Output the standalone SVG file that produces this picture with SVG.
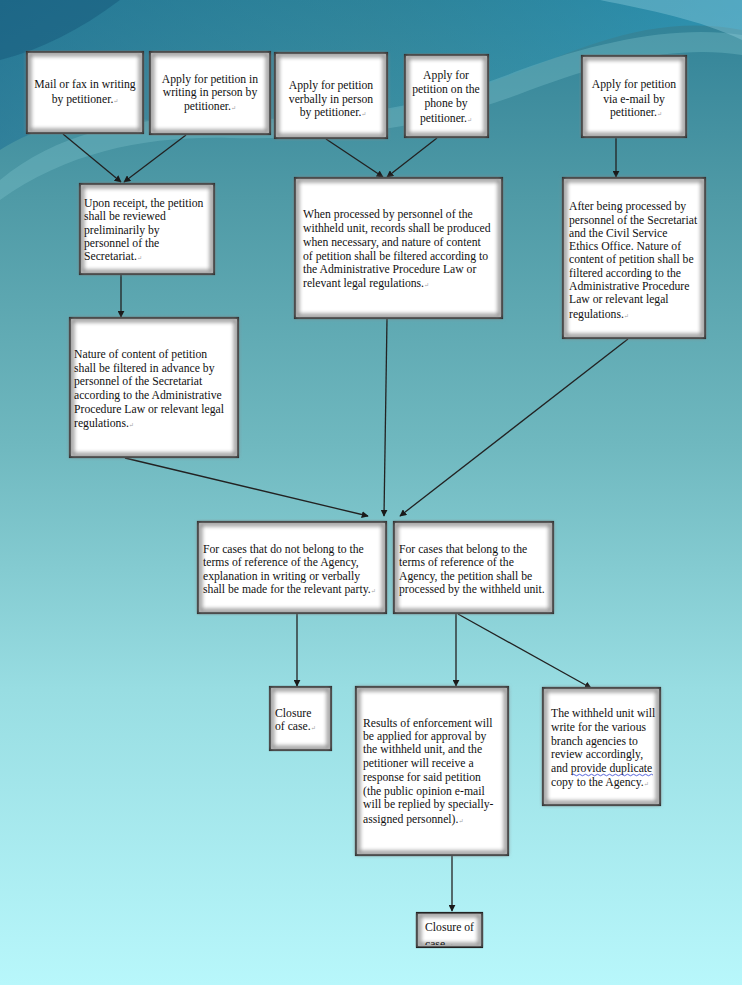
<svg xmlns="http://www.w3.org/2000/svg" width="742" height="985" viewBox="0 0 742 985">
<defs>
<linearGradient id="bg" x1="0" y1="0" x2="0" y2="1">
<stop offset="0" stop-color="#2f8096"/>
<stop offset="0.2" stop-color="#4f9aa6"/>
<stop offset="0.45" stop-color="#6fb8bf"/>
<stop offset="0.7" stop-color="#98dde2"/>
<stop offset="1" stop-color="#b8f7fb"/>
</linearGradient>
<linearGradient id="sw" x1="0" y1="0" x2="1" y2="0">
<stop offset="0" stop-color="#1a6d93" stop-opacity="0.9"/>
<stop offset="0.5" stop-color="#2a8aa4" stop-opacity="0.5"/>
<stop offset="1" stop-color="#26a4cf" stop-opacity="0.8"/>
</linearGradient>
<filter id="inset" x="-5%" y="-5%" width="110%" height="110%">
<feGaussianBlur stdDeviation="2"/>
</filter>
<marker id="arr" viewBox="0 0 10 10" refX="9" refY="5" markerWidth="7" markerHeight="7" orient="auto-start-reverse" markerUnits="userSpaceOnUse">
<path d="M0,0 L10,5 L0,10 z" fill="#1a1a1a"/>
</marker>
<clipPath id="c15"><rect x="419" y="915" width="61" height="30"/></clipPath>
<style>
.box{fill:#ffffff;stroke:#222;stroke-width:2.2}
.glow{fill:none;stroke:#8a8a8a;stroke-width:4;filter:url(#inset)}
text{font-family:"Liberation Serif","Times New Roman","DejaVu Serif",serif;font-size:11.7px;fill:#111}
.c{text-anchor:middle}
.pm{fill:#a0a0a0;font-size:6px}
.ln{stroke:#222;stroke-width:1.3;fill:none;marker-end:url(#arr)}
</style>
</defs>
<rect width="742" height="985" fill="url(#bg)"/>
<path d="M0,0 H742 V30 C640,10 560,60 470,90 C380,120 250,130 150,120 C80,113 30,130 0,150 Z" fill="url(#sw)" opacity="0.55"/>
<path d="M0,180 C60,130 140,115 230,118 C330,122 420,110 520,70 C600,40 680,25 742,35 V55 C680,45 610,60 530,90 C430,130 330,140 230,138 C150,136 70,150 0,200 Z" fill="#7fc4cc" opacity="0.35"/>
<path d="M0,0 H120 C80,30 40,50 0,60 Z" fill="#16577a" opacity="0.5"/>
<path d="M600,0 H742 V40 C700,20 650,10 600,0 Z" fill="#9fd8e6" opacity="0.35"/>

<g id="connectors">
<line class="ln" x1="63" y1="134" x2="121" y2="182"/>
<line class="ln" x1="186" y1="135" x2="124" y2="182"/>
<line class="ln" x1="326" y1="139" x2="383" y2="177"/>
<line class="ln" x1="437" y1="138" x2="387" y2="177"/>
<line class="ln" x1="616" y1="138" x2="616" y2="177"/>
<line class="ln" x1="121" y1="275" x2="121" y2="317"/>
<line class="ln" x1="125" y1="458" x2="368" y2="516"/>
<line class="ln" x1="387" y1="319" x2="384" y2="516"/>
<line class="ln" x1="628" y1="339" x2="400" y2="516"/>
<line class="ln" x1="297" y1="614" x2="297" y2="686"/>
<line class="ln" x1="456" y1="614" x2="456" y2="686"/>
<line class="ln" x1="458" y1="614" x2="591" y2="688"/>
<line class="ln" x1="452" y1="856" x2="452" y2="911"/>
</g>

<g id="n1">
<rect class="box" x="27" y="52" width="116" height="81"/>
<rect class="glow" x="29" y="54" width="112" height="77"/>
<text class="c" x="85" y="88">Mail or fax in writing</text>
<text class="c" x="85" y="103">by petitioner.<tspan class="pm">↵</tspan></text>
</g>
<g id="n2">
<rect class="box" x="150" y="52" width="120" height="82"/>
<rect class="glow" x="152" y="54" width="116" height="78"/>
<text class="c" x="210" y="83">Apply for petition in</text>
<text class="c" x="210" y="96">writing in person by</text>
<text class="c" x="210" y="110">petitioner.<tspan class="pm">↵</tspan></text>
</g>
<g id="n3">
<rect class="box" x="275" y="53" width="112" height="85"/>
<rect class="glow" x="277" y="55" width="108" height="81"/>
<text class="c" x="331" y="89">Apply for petition</text>
<text class="c" x="331" y="103">verbally in person</text>
<text class="c" x="333" y="116">by petitioner.<tspan class="pm">↵</tspan></text>
</g>
<g id="n4">
<rect class="box" x="405" y="55" width="83" height="82"/>
<rect class="glow" x="407" y="57" width="79" height="78"/>
<text class="c" x="446" y="79">Apply for</text>
<text class="c" x="446" y="93">petition on the</text>
<text class="c" x="446" y="107">phone by</text>
<text class="c" x="446" y="122">petitioner.<tspan class="pm">↵</tspan></text>
</g>
<g id="n5">
<rect class="box" x="582" y="56" width="104" height="81"/>
<rect class="glow" x="584" y="58" width="100" height="77"/>
<text class="c" x="634" y="88">Apply for petition</text>
<text class="c" x="634" y="103">via e-mail by</text>
<text class="c" x="636" y="116">petitioner.<tspan class="pm">↵</tspan></text>
</g>
<g id="n6">
<rect class="box" x="80" y="184" width="134" height="90"/>
<rect class="glow" x="82" y="186" width="130" height="86"/>
<text x="84" y="207">Upon receipt, the petition</text>
<text x="84" y="220">shall be reviewed</text>
<text x="84" y="234">preliminarily by</text>
<text x="84" y="247">personnel of the</text>
<text x="84" y="260">Secretariat.<tspan class="pm">↵</tspan></text>
</g>
<g id="n7">
<rect class="box" x="295" y="178" width="207" height="140"/>
<rect class="glow" x="297" y="180" width="203" height="136"/>
<text x="303" y="218">When processed by personnel of the</text>
<text x="303" y="232">withheld unit, records shall be produced</text>
<text x="303" y="246">when necessary, and nature of content</text>
<text x="303" y="260">of petition shall be filtered according to</text>
<text x="303" y="273">the Administrative Procedure Law or</text>
<text x="303" y="287">relevant legal regulations.<tspan class="pm">↵</tspan></text>
</g>
<g id="n8">
<rect class="box" x="563" y="178" width="142" height="160"/>
<rect class="glow" x="565" y="180" width="138" height="156"/>
<text x="569" y="210">After being processed by</text>
<text x="569" y="224">personnel of the Secretariat</text>
<text x="569" y="237">and the Civil Service</text>
<text x="569" y="250">Ethics Office. Nature of</text>
<text x="569" y="263">content of petition shall be</text>
<text x="569" y="277">filtered according to the</text>
<text x="569" y="290">Administrative Procedure</text>
<text x="569" y="303">Law or relevant legal</text>
<text x="569" y="318">regulations.<tspan class="pm">↵</tspan></text>
</g>
<g id="n9">
<rect class="box" x="70" y="318" width="168" height="139"/>
<rect class="glow" x="72" y="320" width="164" height="135"/>
<text x="74" y="358">Nature of content of petition</text>
<text x="74" y="372">shall be filtered in advance by</text>
<text x="74" y="385">personnel of the Secretariat</text>
<text x="74" y="399">according to the Administrative</text>
<text x="74" y="413">Procedure Law or relevant legal</text>
<text x="74" y="427">regulations.<tspan class="pm">↵</tspan></text>
</g>
<g id="n10">
<rect class="box" x="198" y="522" width="188" height="91"/>
<rect class="glow" x="200" y="524" width="184" height="87"/>
<text x="203" y="553">For cases that do not belong to the</text>
<text x="203" y="566">terms of reference of the Agency,</text>
<text x="203" y="580">explanation in writing or verbally</text>
<text x="203" y="593">shall be made for the relevant party.<tspan class="pm">↵</tspan></text>
</g>
<g id="n11">
<rect class="box" x="394" y="522" width="159" height="91"/>
<rect class="glow" x="396" y="524" width="155" height="87"/>
<text x="399" y="553">For cases that belong to the</text>
<text x="399" y="566">terms of reference of the</text>
<text x="399" y="580">Agency, the petition shall be</text>
<text x="399" y="593">processed by the withheld unit.</text>
</g>
<g id="n12">
<rect class="box" x="270" y="687" width="61" height="63"/>
<rect class="glow" x="272" y="689" width="57" height="59"/>
<text x="275" y="717">Closure</text>
<text x="275" y="730">of case.<tspan class="pm">↵</tspan></text>
</g>
<g id="n13">
<rect class="box" x="356" y="687" width="152" height="168"/>
<rect class="glow" x="358" y="689" width="148" height="164"/>
<text x="363" y="727">Results of enforcement will</text>
<text x="363" y="740">be applied for approval by</text>
<text x="363" y="753">the withheld unit, and the</text>
<text x="363" y="767">petitioner will receive a</text>
<text x="363" y="781">response for said petition</text>
<text x="363" y="795">(the public opinion e-mail</text>
<text x="363" y="808">will be replied by specially-</text>
<text x="363" y="823">assigned personnel).<tspan class="pm">↵</tspan></text>
</g>
<g id="n14">
<rect class="box" x="543" y="688" width="117" height="117"/>
<rect class="glow" x="545" y="690" width="113" height="113"/>
<text x="551" y="717">The withheld unit will</text>
<text x="551" y="731">write for the various</text>
<text x="551" y="745">branch agencies to</text>
<text x="551" y="758">review accordingly,</text>
<text x="551" y="772">and provide  duplicate</text>
<text x="551" y="786">copy to the Agency.<tspan class="pm">↵</tspan></text>
<path d="M572,775 q1.5,-1.5 3,0 t3,0 t3,0 t3,0 t3,0 t3,0 t3,0 t3,0 t3,0 t3,0 t3,0 t3,0 t3,0 t3,0 t3,0 t3,0 t3,0 t3,0 t3,0 t3,0 t3,0 t3,0 t3,0 t3,0 t3,0 t3,0 t3,0" fill="none" stroke="#3040d0" stroke-width="0.8"/>
</g>
<g id="n15">
<rect class="box" x="417" y="913" width="65" height="34"/>
<rect class="glow" x="419" y="915" width="61" height="30"/>
<g clip-path="url(#c15)">
<text x="425" y="931">Closure of</text>
<text x="425" y="948">case.<tspan class="pm">↵</tspan></text>
</g>
</g>
</svg>
